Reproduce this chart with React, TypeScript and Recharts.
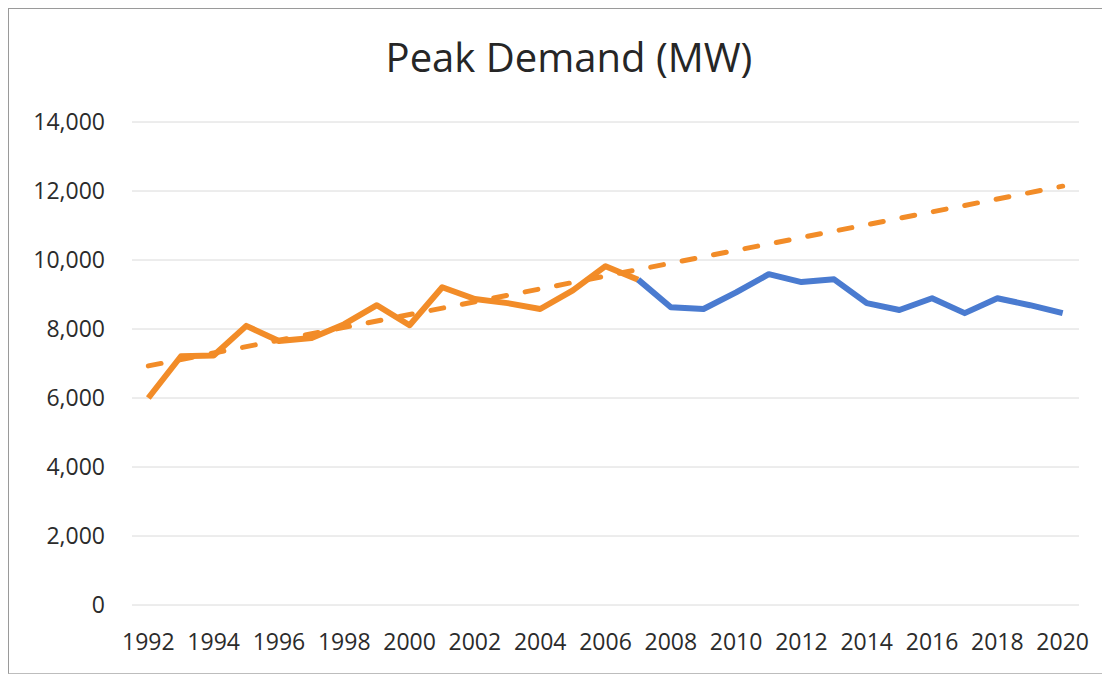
import { CartesianGrid, Line, LineChart, XAxis, YAxis } from 'recharts';

const years = [
  1992, 1993, 1994, 1995, 1996, 1997, 1998, 1999, 2000, 2001, 2002, 2003, 2004, 2005, 2006,
  2007, 2008, 2009, 2010, 2011, 2012, 2013, 2014, 2015, 2016, 2017, 2018, 2019, 2020,
];

// 1992 - 2007 (orange)
const earlyDemand = [
  6000, 7210, 7230, 8090, 7650, 7740, 8140, 8690, 8110, 9210, 8870, 8750, 8580, 9120, 9820, 9430,
];

// 2007 - 2020 (blue)
const lateDemand = [
  9430, 8630, 8580, 9060, 9590, 9360, 9440, 8750, 8550, 8890, 8460, 8890, 8690, 8460,
];

// dashed linear trend, start and end values
const trendEnds = [6930, 12140];

const xTicks = [1992, 1994, 1996, 1998, 2000, 2002, 2004, 2006, 2008, 2010, 2012, 2014, 2016, 2018, 2020];
const yTicks = [0, 2000, 4000, 6000, 8000, 10000, 12000, 14000];

const lateStart = years.indexOf(2007);

const rows = years.map((year, i) => ({
  year,
  early: i < earlyDemand.length ? earlyDemand[i] : null,
  late: i >= lateStart ? lateDemand[i - lateStart] : null,
  trend: i === 0 ? trendEnds[0] : i === years.length - 1 ? trendEnds[1] : null,
}));

const font = '"Open Sans", sans-serif';
const tickStyle = { fontSize: 23, fill: '#2b2b2b', fontFamily: font };

export default function App() {
  return (
    <div style={{ position: 'relative', width: 1102, height: 667 }}>
      <div
        style={{
          position: 'absolute',
          left: 0,
          top: 0,
          width: 1102,
          height: 666,
          boxSizing: 'border-box',
          borderLeft: '1px solid #9a9a9a',
          borderTop: '1px solid #9a9a9a',
          borderBottom: '1px solid #bdbdbd',
          pointerEvents: 'none',
        }}
      />
      <svg style={{ position: 'absolute', left: 0, top: 0 }} width={1102} height={100}>
        <text x={561} y={64} textAnchor="middle" fontFamily={font} fontSize={40} fill="#262626">
          Peak Demand (MW)
        </text>
      </svg>
      <LineChart
        width={1102}
        height={667}
        data={rows}
        margin={{ top: 114, right: 31, bottom: 40, left: 24 }}
      >
        <CartesianGrid vertical={false} stroke="#dadada" />
        <XAxis
          dataKey="year"
          type="number"
          domain={[1991.5, 2020.5]}
          ticks={xTicks}
          interval={0}
          height={30}
          axisLine={false}
          tickLine={false}
          tickMargin={23}
          tick={tickStyle}
        />
        <YAxis
          width={100}
          domain={[0, 14000]}
          ticks={yTicks}
          axisLine={false}
          tickLine={false}
          tickMargin={21}
          tick={tickStyle}
          tickFormatter={(v: number) => v.toLocaleString('en-US')}
        />
        <Line
          dataKey="early"
          type="linear"
          stroke="#f28c28"
          strokeWidth={6}
          strokeLinejoin="round"
          dot={false}
          activeDot={false}
          isAnimationActive={false}
        />
        <Line
          dataKey="late"
          type="linear"
          stroke="#4a7bd0"
          strokeWidth={6}
          strokeLinejoin="round"
          dot={false}
          activeDot={false}
          isAnimationActive={false}
        />
        <Line
          dataKey="trend"
          type="linear"
          stroke="#f28c28"
          strokeWidth={5}
          strokeDasharray="13 19"
          strokeLinecap="round"
          connectNulls
          dot={false}
          activeDot={false}
          isAnimationActive={false}
        />
      </LineChart>
    </div>
  );
}
